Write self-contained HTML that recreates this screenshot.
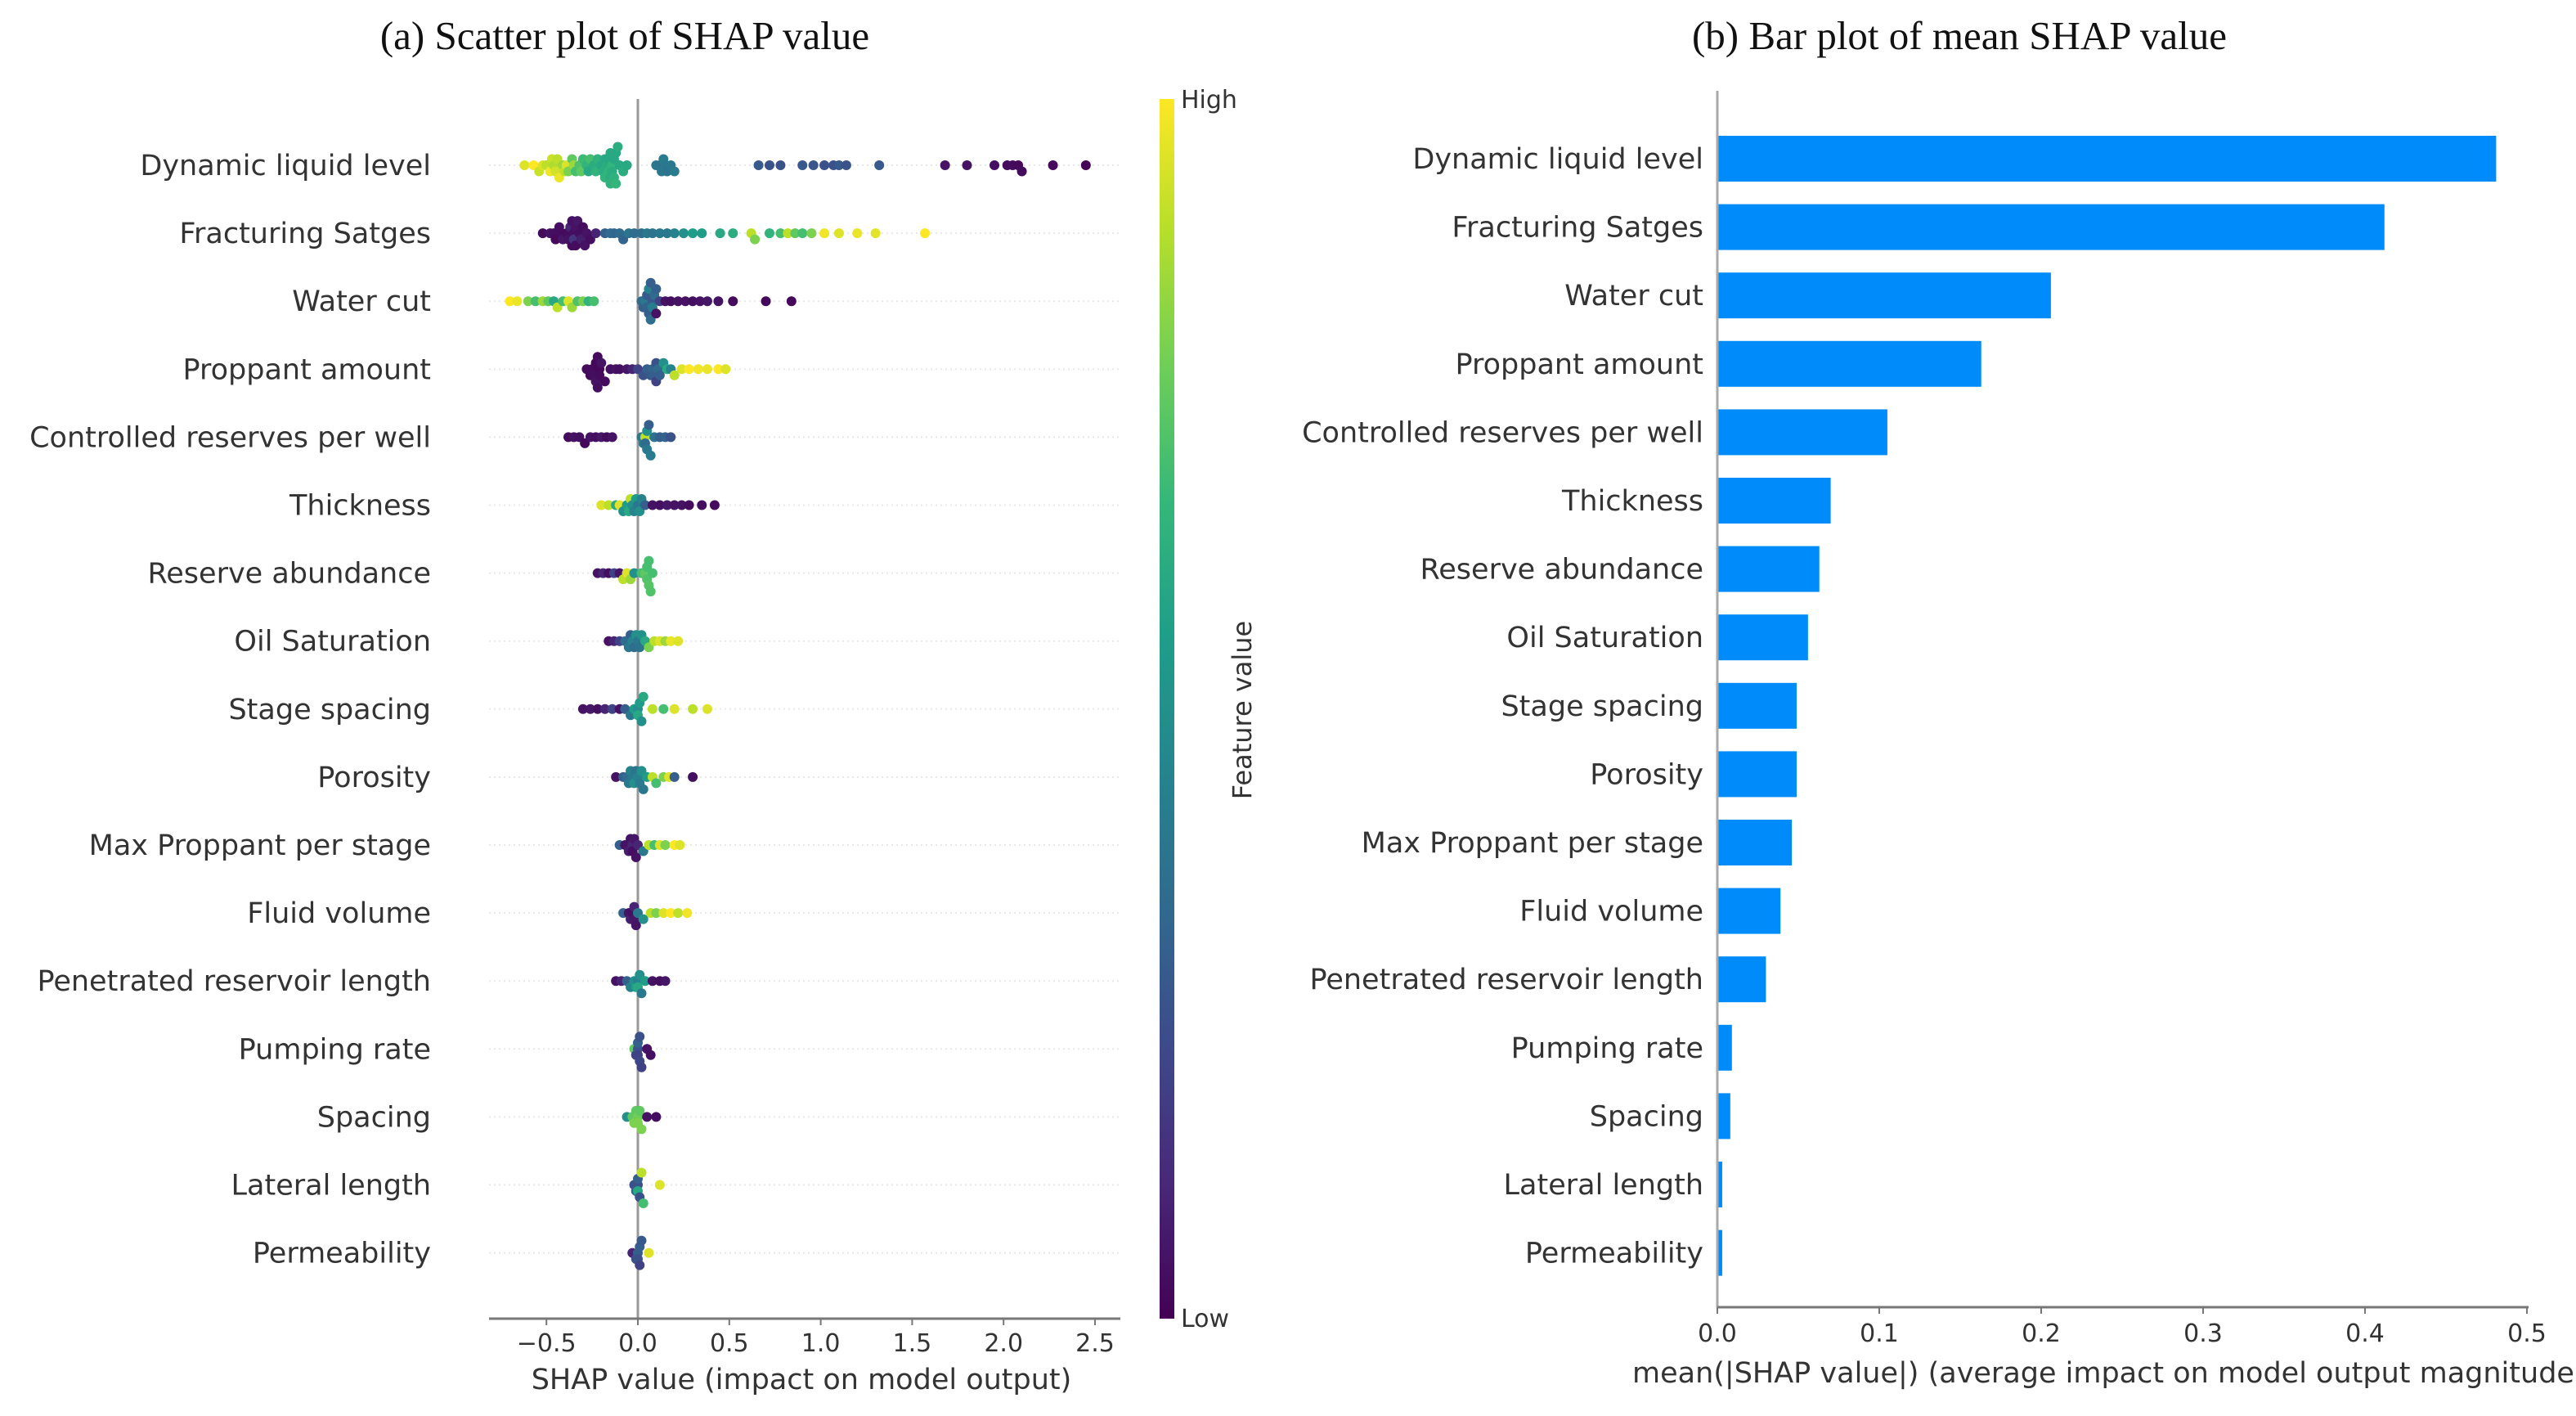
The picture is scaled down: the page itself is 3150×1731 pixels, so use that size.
<!DOCTYPE html>
<html><head><meta charset="utf-8"><style>
html,body{margin:0;padding:0;background:#fff;width:3150px;height:1731px;overflow:hidden}
svg{display:block}
.lab{font-family:"DejaVu Sans","Liberation Sans",sans-serif;font-size:35px;fill:#333}
.tick{font-family:"DejaVu Sans","Liberation Sans",sans-serif;font-size:30px;fill:#333}
.ttl{font-family:"Liberation Serif",serif;font-size:49px;fill:#111}
</style></head><body>
<svg id="fig" width="3150" height="1731" viewBox="0 0 3150 1731" xmlns="http://www.w3.org/2000/svg">
<defs><linearGradient id="vir" x1="0" y1="1" x2="0" y2="0">
<stop offset="0" stop-color="#440154"/><stop offset="0.11" stop-color="#482878"/><stop offset="0.22" stop-color="#3e4989"/><stop offset="0.33" stop-color="#31688e"/><stop offset="0.44" stop-color="#26828e"/><stop offset="0.56" stop-color="#1f9e89"/><stop offset="0.67" stop-color="#35b779"/><stop offset="0.78" stop-color="#6ece58"/><stop offset="0.89" stop-color="#b5de2b"/><stop offset="1" stop-color="#fde725"/>
</linearGradient></defs>
<text class="ttl" x="764" y="60" text-anchor="middle">(a) Scatter plot of SHAP value</text>
<text class="ttl" x="2396" y="60" text-anchor="middle">(b) Bar plot of mean SHAP value</text>
<g id="left"></g>
<g id="right"></g>
<rect x="1418" y="121" width="18" height="1491" fill="url(#vir)"/>
<text class="tick" x="1444" y="132">High</text>
<text class="tick" x="1444" y="1622">Low</text>
<text class="tick" x="0" y="0" transform="translate(1530,868) rotate(-90)" text-anchor="middle" style="font-size:32px">Feature value</text>
</svg>
<script>
const features = ["Dynamic liquid level","Fracturing Satges","Water cut","Proppant amount","Controlled reserves per well","Thickness","Reserve abundance","Oil Saturation","Stage spacing","Porosity","Max Proppant per stage","Fluid volume","Penetrated reservoir length","Pumping  rate","Spacing","Lateral length","Permeability"];
const meanShap = [0.481,0.412,0.206,0.163,0.105,0.070,0.063,0.056,0.049,0.049,0.046,0.039,0.030,0.009,0.008,0.003,0.003];
const scatterTicks = [-0.5,0.0,0.5,1.0,1.5,2.0,2.5];
const scatterTickLabels = ["\u22120.5","0.0","0.5","1.0","1.5","2.0","2.5"];
const barTicks = [0,0.1,0.2,0.3,0.4,0.5];
const barTickLabels = ["0.0","0.1","0.2","0.3","0.4","0.5"];
// SHAP points per feature: [shap value, feature value 0..1]
const shapPts = [
 [[-0.62,0.95],[-0.57,1],[-0.54,0.92],[-0.52,0.95],[-0.5,0.9],[-0.48,0.98],[-0.47,0.92],[-0.46,0.88],[-0.45,0.93],[-0.44,0.9],[-0.43,0.97],[-0.41,0.85],[-0.4,0.9],[-0.39,0.95],[-0.38,0.8],[-0.36,0.75],[-0.35,0.85],[-0.34,0.7],[-0.32,0.72],[-0.31,0.75],[-0.3,0.68],[-0.28,0.65],[-0.27,0.6],[-0.26,0.7],[-0.24,0.62],[-0.23,0.65],[-0.22,0.64],[-0.2,0.6],[-0.19,0.62],[-0.18,0.6],[-0.18,0.65],[-0.17,0.62],[-0.16,0.65],[-0.16,0.6],[-0.15,0.62],[-0.15,0.6],[-0.15,0.64],[-0.14,0.66],[-0.14,0.62],[-0.13,0.6],[-0.13,0.64],[-0.12,0.6],[-0.12,0.66],[-0.11,0.62],[-0.1,0.6],[-0.08,0.62],[-0.06,0.6],[0.1,0.4],[0.12,0.38],[0.13,0.4],[0.14,0.42],[0.15,0.4],[0.16,0.38],[0.18,0.4],[0.2,0.42],[0.66,0.28],[0.72,0.25],[0.78,0.25],[0.9,0.28],[0.96,0.27],[1.02,0.25],[1.07,0.25],[1.1,0.28],[1.14,0.26],[1.32,0.28],[1.68,0.05],[1.8,0.05],[1.95,0.04],[2.02,0.03],[2.05,0.03],[2.08,0.02],[2.1,0.03],[2.27,0.02],[2.45,0.01]],
 [[-0.52,0.03],[-0.48,0.05],[-0.46,0.04],[-0.45,0.02],[-0.43,0.04],[-0.42,0.03],[-0.41,0.06],[-0.39,0.03],[-0.38,0.05],[-0.37,0.1],[-0.36,0.03],[-0.36,0.05],[-0.35,0.04],[-0.35,0.15],[-0.34,0.05],[-0.34,0.03],[-0.33,0.06],[-0.32,0.04],[-0.31,0.08],[-0.3,0.03],[-0.29,0.05],[-0.28,0.05],[-0.26,0.04],[-0.23,0.1],[-0.18,0.3],[-0.15,0.35],[-0.13,0.33],[-0.1,0.35],[-0.08,0.32],[-0.05,0.38],[-0.02,0.35],[0.02,0.35],[0.05,0.4],[0.08,0.38],[0.12,0.4],[0.16,0.4],[0.2,0.45],[0.25,0.5],[0.3,0.55],[0.35,0.55],[0.45,0.6],[0.52,0.62],[0.62,0.9],[0.64,0.8],[0.72,0.65],[0.78,0.7],[0.82,0.9],[0.86,0.75],[0.9,0.7],[0.95,0.8],[1.02,0.98],[1.1,0.95],[1.2,0.97],[1.3,0.96],[1.57,1]],
 [[-0.7,1],[-0.66,0.97],[-0.6,0.8],[-0.56,0.7],[-0.52,0.85],[-0.49,0.75],[-0.46,0.6],[-0.44,0.9],[-0.41,0.7],[-0.38,0.95],[-0.36,0.85],[-0.33,0.72],[-0.3,0.8],[-0.27,0.65],[-0.24,0.7],[0.02,0.35],[0.03,0.3],[0.04,0.4],[0.05,0.32],[0.05,0.28],[0.06,0.3],[0.06,0.45],[0.07,0.35],[0.07,0.3],[0.08,0.28],[0.08,0.42],[0.09,0.35],[0.1,0.05],[0.1,0.3],[0.12,0.2],[0.15,0.05],[0.18,0.04],[0.22,0.05],[0.26,0.05],[0.3,0.04],[0.34,0.05],[0.38,0.06],[0.44,0.05],[0.52,0.03],[0.7,0.02],[0.84,0.02]],
 [[-0.28,0.03],[-0.26,0.02],[-0.25,0.03],[-0.24,0.04],[-0.23,0.02],[-0.23,0.05],[-0.22,0.03],[-0.22,0.04],[-0.21,0.02],[-0.21,0.03],[-0.2,0.05],[-0.18,0.03],[-0.15,0.04],[-0.12,0.05],[-0.1,0.04],[-0.06,0.06],[-0.03,0.1],[0.0,0.2],[0.03,0.25],[0.05,0.3],[0.07,0.28],[0.08,0.32],[0.09,0.3],[0.1,0.25],[0.1,0.2],[0.11,0.35],[0.12,0.3],[0.14,0.5],[0.16,0.6],[0.18,0.45],[0.2,0.9],[0.24,0.95],[0.28,1],[0.33,0.98],[0.38,0.97],[0.44,1],[0.48,0.95]],
 [[-0.38,0.03],[-0.35,0.05],[-0.32,0.04],[-0.29,0.02],[-0.26,0.05],[-0.23,0.04],[-0.2,0.06],[-0.17,0.03],[-0.14,0.05],[0.02,0.4],[0.03,0.45],[0.04,0.9],[0.04,0.35],[0.05,0.5],[0.05,0.4],[0.06,0.3],[0.07,0.42],[0.09,0.38],[0.12,0.3],[0.15,0.32],[0.18,0.25]],
 [[-0.2,0.95],[-0.16,0.9],[-0.12,0.6],[-0.1,0.95],[-0.08,0.5],[-0.06,0.55],[-0.05,0.6],[-0.04,0.9],[-0.03,0.5],[-0.02,0.45],[-0.01,0.55],[0.0,0.4],[0.01,0.5],[0.02,0.45],[0.04,0.3],[0.08,0.05],[0.12,0.04],[0.16,0.06],[0.2,0.05],[0.24,0.05],[0.28,0.03],[0.35,0.04],[0.42,0.03]],
 [[-0.22,0.05],[-0.19,0.1],[-0.16,0.04],[-0.13,0.2],[-0.1,0.06],[-0.08,0.9],[-0.06,0.95],[-0.04,0.85],[-0.02,0.5],[0.02,0.7],[0.04,0.75],[0.05,0.72],[0.05,0.7],[0.06,0.73],[0.06,0.7],[0.07,0.72],[0.08,0.7]],
 [[-0.16,0.05],[-0.13,0.1],[-0.1,0.2],[-0.07,0.35],[-0.05,0.4],[-0.04,0.3],[-0.03,0.45],[-0.02,0.35],[-0.01,0.5],[0.0,0.4],[0.01,0.38],[0.02,0.5],[0.04,0.6],[0.06,0.8],[0.09,0.9],[0.12,0.95],[0.15,0.85],[0.18,0.97],[0.22,0.95]],
 [[-0.3,0.05],[-0.26,0.06],[-0.22,0.04],[-0.18,0.1],[-0.14,0.2],[-0.1,0.05],[-0.07,0.3],[-0.04,0.4],[-0.02,0.55],[0.0,0.5],[0.0,0.6],[0.01,0.55],[0.02,0.5],[0.03,0.6],[0.08,0.9],[0.14,0.7],[0.2,0.95],[0.3,0.9],[0.38,0.95]],
 [[-0.12,0.05],[-0.08,0.3],[-0.06,0.35],[-0.05,0.4],[-0.04,0.45],[-0.03,0.4],[-0.02,0.5],[-0.01,0.38],[0.0,0.45],[0.01,0.42],[0.02,0.5],[0.03,0.4],[0.05,0.55],[0.08,0.9],[0.1,0.7],[0.14,0.8],[0.17,0.95],[0.2,0.3],[0.3,0.04]],
 [[-0.1,0.3],[-0.07,0.05],[-0.05,0.08],[-0.04,0.05],[-0.03,0.1],[-0.03,0.04],[-0.02,0.06],[-0.01,0.05],[0.0,0.1],[0.03,0.4],[0.06,0.9],[0.09,0.7],[0.12,0.95],[0.15,0.8],[0.2,1],[0.23,0.95]],
 [[-0.08,0.3],[-0.05,0.05],[-0.04,0.08],[-0.03,0.04],[-0.02,0.06],[-0.02,0.1],[-0.01,0.05],[0.0,0.4],[0.03,0.5],[0.07,0.9],[0.1,0.8],[0.14,0.95],[0.18,1],[0.22,0.9],[0.27,0.98]],
 [[-0.12,0.05],[-0.09,0.1],[-0.06,0.3],[-0.04,0.45],[-0.02,0.5],[-0.01,0.55],[0.0,0.45],[0.0,0.6],[0.01,0.5],[0.02,0.4],[0.04,0.55],[0.08,0.05],[0.12,0.04],[0.15,0.06]],
 [[-0.02,0.75],[-0.01,0.2],[0.0,0.25],[0.0,0.2],[0.0,0.3],[0.01,0.22],[0.01,0.25],[0.02,0.2],[0.05,0.05],[0.07,0.04]],
 [[-0.06,0.5],[-0.03,0.75],[-0.02,0.8],[-0.01,0.75],[0.0,0.78],[0.0,0.8],[0.01,0.75],[0.02,0.8],[0.05,0.05],[0.1,0.04]],
 [[-0.02,0.25],[-0.01,0.3],[0.0,0.25],[0.0,0.6],[0.0,0.3],[0.01,0.25],[0.02,0.9],[0.03,0.7],[0.12,0.95]],
 [[-0.03,0.1],[-0.01,0.25],[0.0,0.3],[0.0,0.25],[0.01,0.3],[0.01,0.2],[0.02,0.28],[0.06,0.95]]
];
const NS="http://www.w3.org/2000/svg";
const vstops=[[68,1,84],[72,40,120],[62,73,137],[49,104,142],[38,130,142],[31,158,137],[53,183,121],[110,206,88],[181,222,43],[253,231,37]];
function viridis(t){t=Math.max(0,Math.min(1,t));const p=t*9,i=Math.min(8,Math.floor(p)),f=p-i,a=vstops[i],b=vstops[i+1];return `rgb(${Math.round(a[0]+(b[0]-a[0])*f)},${Math.round(a[1]+(b[1]-a[1])*f)},${Math.round(a[2]+(b[2]-a[2])*f)})`;}
function mk(tag,attrs,parent,text){const e=document.createElementNS(NS,tag);for(const k in attrs)e.setAttribute(k,attrs[k]);if(text!==undefined)e.textContent=text;parent.appendChild(e);return e;}
const sx=v=>780+v*223.6;
const sy=i=>202+i*83.1;
const L=document.getElementById('left');
features.forEach((f,i)=>{
 const g=mk('line',{x1:598,x2:1370,y1:sy(i),y2:sy(i),stroke:'#e8e8e8','stroke-width':2,'stroke-dasharray':'2 4'},L);
 
 
 const t=mk('text',{class:'lab',x:527,y:sy(i)+12,'text-anchor':'end'},L,f);
 
 
});
const zl=mk('line',{x1:sx(0),x2:sx(0),y1:121,y2:1612,stroke:'#999','stroke-width':3},L);


shapPts.forEach((pts,i)=>{
 const sorted=pts.slice().sort((a,b)=>a[0]-b[0]);
 const bins={};
 sorted.forEach(p=>{
  const px=sx(p[0]);const b=Math.round(px/8);
  const k=bins[b]||0;bins[b]=k+1;
  const off=k===0?0:(k%2?1:-1)*Math.ceil(k/2)*7.5;
  const c=mk('circle',{cx:px,cy:sy(i)+off,r:6,fill:viridis(p[1])},L);
  
  
 });
});
const xa=mk('line',{x1:598,x2:1370,y1:1612,y2:1612,stroke:'#777','stroke-width':3},L);


scatterTicks.forEach((v,j)=>{
 const tk=mk('line',{x1:sx(v),x2:sx(v),y1:1612,y2:1620,stroke:'#777','stroke-width':2},L);
 
 
 const t=mk('text',{class:'tick',x:sx(v),y:1652,'text-anchor':'middle'},L,scatterTickLabels[j]);
 
 
});
const xt=mk('text',{class:'lab',x:980,y:1698,'text-anchor':'middle'},L,'SHAP value (impact on model output)');


const bx=v=>2100+v*1980;
const by=i=>194+i*83.6;
const R=document.getElementById('right');
features.forEach((f,i)=>{
 const r=mk('rect',{x:bx(0),y:by(i)-28,width:bx(meanShap[i])-bx(0),height:56,fill:'#008bfb'},R);
 
 
 const t=mk('text',{class:'lab',x:2083,y:by(i)+12,'text-anchor':'end'},R,f);
 
 
});
const sp=mk('line',{x1:2100,x2:2100,y1:111,y2:1598,stroke:'#aaa','stroke-width':3},R);


const bxa=mk('line',{x1:2100,x2:3092,y1:1598,y2:1598,stroke:'#777','stroke-width':3},R);


barTicks.forEach((v,j)=>{
 const tk=mk('line',{x1:bx(v),x2:bx(v),y1:1598,y2:1606,stroke:'#777','stroke-width':2},R);
 
 
 const t=mk('text',{class:'tick',x:bx(v),y:1640,'text-anchor':'middle'},R,barTickLabels[j]);
 
 
});
const bt=mk('text',{class:'lab',x:1996,y:1690},R,'mean(|SHAP value|) (average impact on model output magnitude)');


</script>
</body></html>
